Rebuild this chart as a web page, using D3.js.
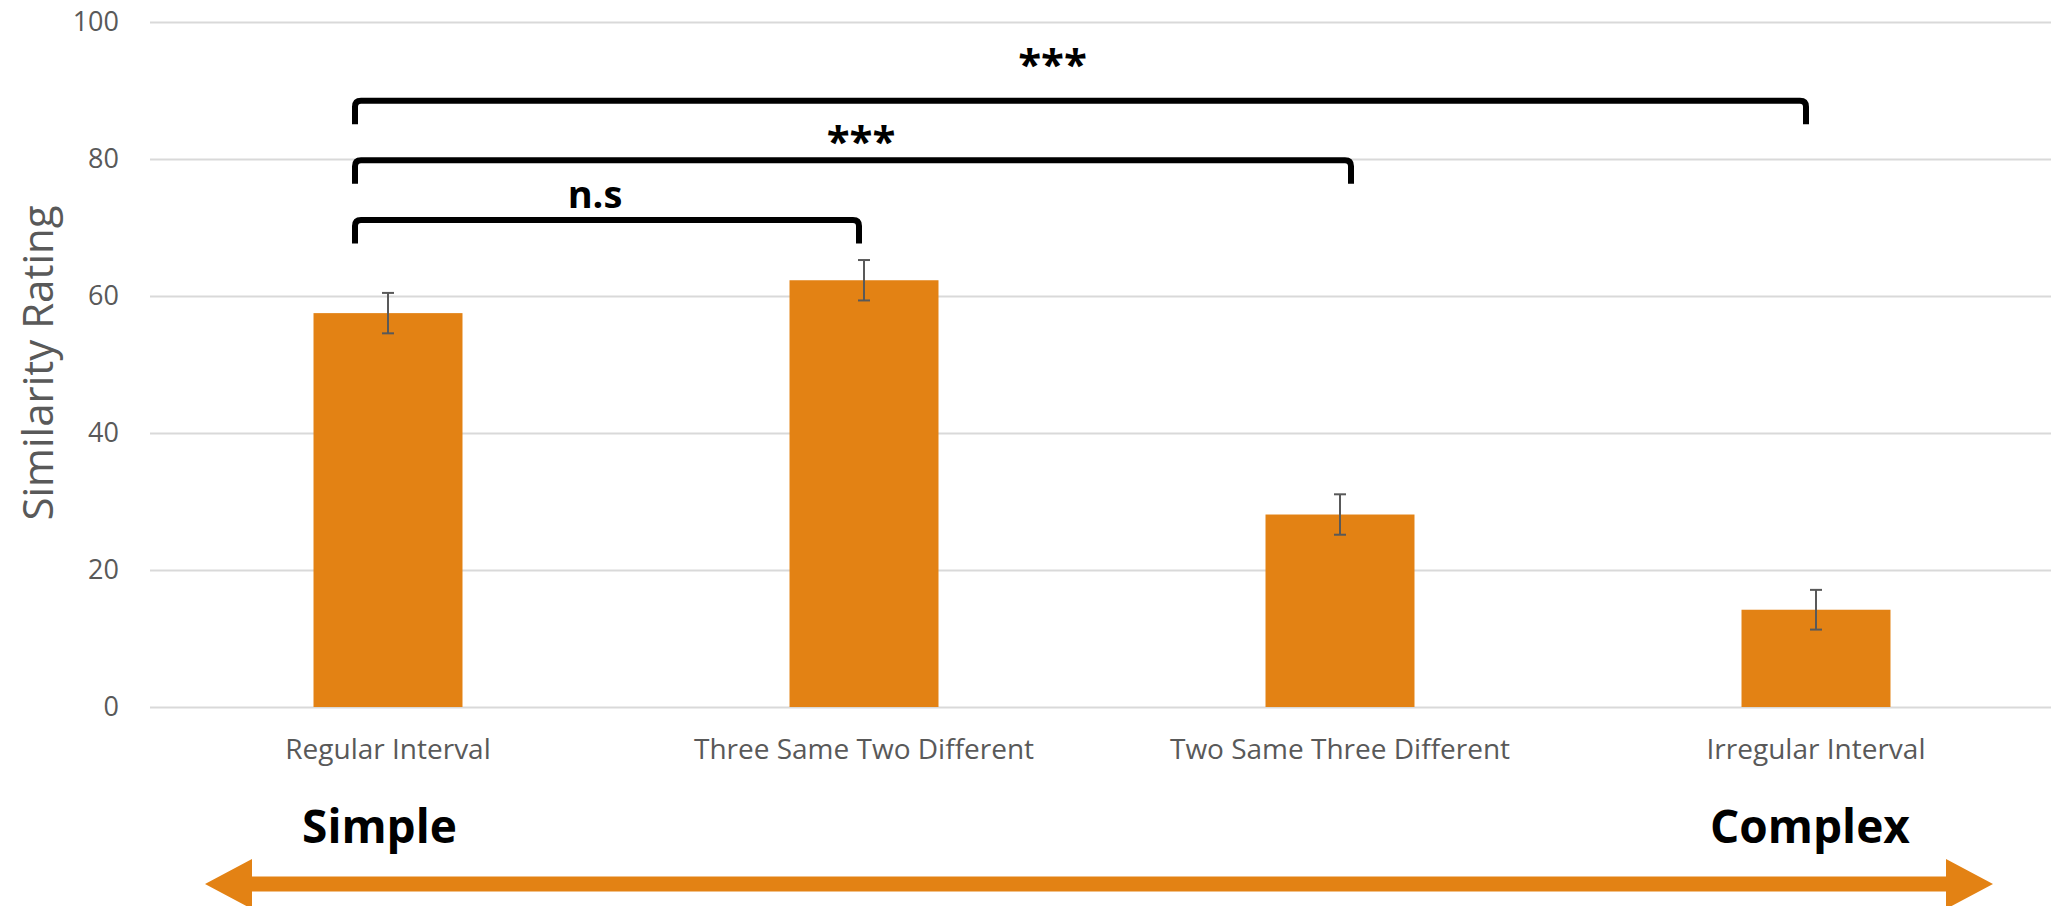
<!DOCTYPE html>
<html>
<head>
<meta charset="utf-8">
<script src="https://cdn.jsdelivr.net/npm/d3@7"></script>
<style>
  html, body { margin: 0; padding: 0; background: #ffffff; }
  svg { display: block; }
  text { font-family: "Open Sans", "Noto Sans", sans-serif; }
</style>
</head>
<body>
<svg id="chart" width="2051" height="906"></svg>
<script>
// Mean similarity rating per rhythm condition, with error bars
const categories = [
  "Regular Interval",
  "Three Same Two Different",
  "Two Same Three Different",
  "Irregular Interval"
];
const means = [57.5, 62.3, 28.1, 14.2];
const errors = [2.95, 2.95, 2.95, 2.9];
const yTicks = [0, 20, 40, 60, 80, 100];

// Pairwise comparisons shown as brackets above the bars
const comparisonFrom = ["Regular Interval", "Regular Interval", "Regular Interval"];
const comparisonTo = ["Three Same Two Different", "Two Same Three Different", "Irregular Interval"];
const comparisonLabels = ["n.s", "***", "***"];

// Complexity continuum shown under the axis
const continuumLabels = ["Simple", "Complex"];

const W = 2051, H = 906;
const svg = d3.select("#chart");

const orange = "#e38214";
const grey = "#595959";

const y = d3.scaleLinear().domain([0, 100]).range([707, 22]);
const x = d3.scaleBand()
  .domain(categories)
  .range([150, 2054])
  .paddingInner(0.687)
  .paddingOuter(0.3435);

// Horizontal gridlines and y tick labels
const yAxis = svg.append("g")
  .attr("transform", "translate(150,0)")
  .call(d3.axisLeft(y).tickValues(yTicks).tickSize(-(W - 150)).tickPadding(31));
yAxis.select(".domain").remove();
yAxis.selectAll(".tick line").attr("stroke", "#d9d9d9").attr("stroke-width", 2);
yAxis.selectAll(".tick text")
  .attr("fill", grey)
  .style("font-size", "27px")
  .style("font-family", "'Open Sans', sans-serif");

// Category labels
const xAxis = svg.append("g")
  .attr("transform", "translate(0,707)")
  .call(d3.axisBottom(x).tickSize(0).tickPadding(32));
xAxis.select(".domain").remove();
xAxis.selectAll(".tick text")
  .attr("fill", grey)
  .style("font-size", "28px")
  .style("font-family", "'Open Sans', sans-serif");

// Y axis title
svg.append("text")
  .attr("transform", "translate(53,363) rotate(-90)")
  .attr("text-anchor", "middle")
  .attr("fill", grey)
  .style("font-size", "42px")
  .text("Similarity Rating");

// Bars
const rows = categories.map((c, i) => ({ c, m: means[i], e: errors[i] }));
svg.append("g").selectAll("rect")
  .data(rows)
  .join("rect")
  .attr("x", d => x(d.c))
  .attr("y", d => y(d.m))
  .attr("width", x.bandwidth())
  .attr("height", d => y(0) - y(d.m))
  .attr("fill", orange);

// Error bars
const eg = svg.append("g").attr("stroke", grey).attr("stroke-width", 2).attr("fill", "none");
const cx = c => x(c) + x.bandwidth() / 2;
rows.forEach(d => {
  const xc = cx(d.c);
  eg.append("line").attr("x1", xc).attr("x2", xc).attr("y1", y(d.m + d.e)).attr("y2", y(d.m - d.e));
  eg.append("line").attr("x1", xc - 6).attr("x2", xc + 6).attr("y1", y(d.m + d.e)).attr("y2", y(d.m + d.e));
  eg.append("line").attr("x1", xc - 6).attr("x2", xc + 6).attr("y1", y(d.m - d.e)).attr("y2", y(d.m - d.e));
});

// Significance brackets
const bg = svg.append("g");
const legLen = 23.5, r = 6;
const rightNudge = [-5, 11, -10];
const labelLift = [12, 4, 22];
const labelShift = [-12, 8, -28];
comparisonLabels.forEach((lab, k) => {
  const x0 = cx(comparisonFrom[k]) - 33;
  const x1 = cx(comparisonTo[k]) + rightNudge[k];
  const yt = y(71.1 + 8.7 * k);
  const yb = yt + legLen;
  const p = d3.path();
  p.moveTo(x0, yb);
  p.lineTo(x0, yt + r);
  p.quadraticCurveTo(x0, yt, x0 + r, yt);
  p.lineTo(x1 - r, yt);
  p.quadraticCurveTo(x1, yt, x1, yt + r);
  p.lineTo(x1, yb);
  bg.append("path")
    .attr("d", p.toString())
    .attr("fill", "none")
    .attr("stroke", "#000")
    .attr("stroke-width", 6);
  const isStars = lab.startsWith("*");
  bg.append("text")
    .attr("x", (x0 + x1) / 2 + labelShift[k])
    .attr("y", yt - labelLift[k])
    .attr("text-anchor", "middle")
    .attr("fill", "#000")
    .style("font-weight", "bold")
    .style("font-size", isStars ? "42px" : "38px")
    .text(lab);
});

// Simple <-> Complex continuum arrow
const arrowY = 884, shaft = 15, headHalf = 25, headLen = 47;
const ax0 = 205, ax1 = 1993;
const arrow = d3.path();
arrow.moveTo(ax0, arrowY);
arrow.lineTo(ax0 + headLen, arrowY - headHalf);
arrow.lineTo(ax0 + headLen, arrowY - shaft / 2);
arrow.lineTo(ax1 - headLen, arrowY - shaft / 2);
arrow.lineTo(ax1 - headLen, arrowY - headHalf);
arrow.lineTo(ax1, arrowY);
arrow.lineTo(ax1 - headLen, arrowY + headHalf);
arrow.lineTo(ax1 - headLen, arrowY + shaft / 2);
arrow.lineTo(ax0 + headLen, arrowY + shaft / 2);
arrow.lineTo(ax0 + headLen, arrowY + headHalf);
arrow.closePath();
svg.append("path").attr("d", arrow.toString()).attr("fill", orange);

svg.append("g").selectAll("text")
  .data(continuumLabels)
  .join("text")
  .attr("x", (d, i) => i === 0 ? 379.5 : 1810)
  .attr("y", 843)
  .attr("text-anchor", "middle")
  .attr("fill", "#000")
  .style("font-weight", "bold")
  .style("font-size", "46px")
  .text(d => d);
</script>
</body>
</html>
